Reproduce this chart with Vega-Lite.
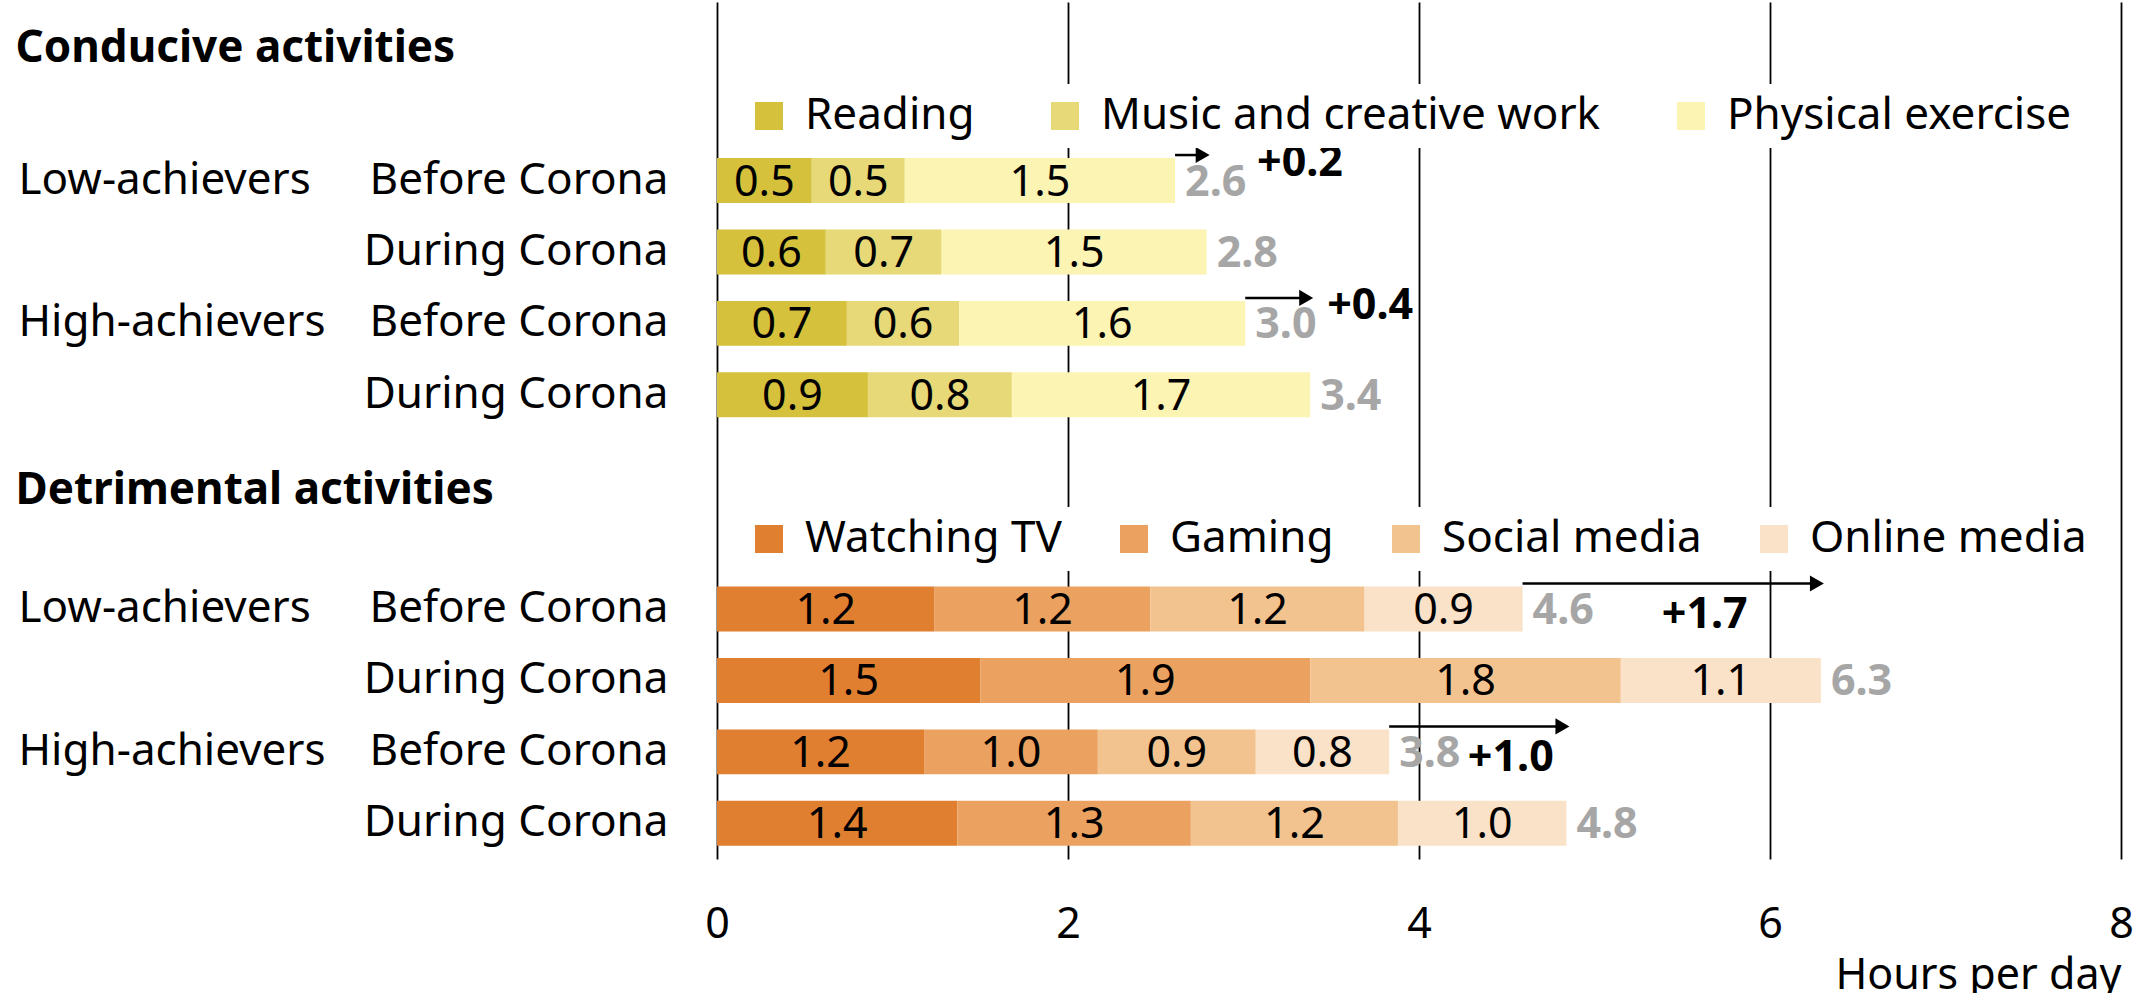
{
  "$schema": "https://vega.github.io/schema/vega-lite/v6.json",
  "width": 1404,
  "height": 857,
  "padding": {"left": 15, "top": 2, "right": 0, "bottom": 0},
  "config": {
    "font": "Noto Sans",
    "view": {"stroke": null},
    "axis": {"labelFontSize": 44, "labelColor": "black", "labelLimit": 0, "domain": false, "ticks": false, "tickSize": 0, "grid": false, "labelFontWeight": "normal"},
    "legend": {"labelFontSize": 44, "labelColor": "black", "labelLimit": 0, "symbolType": "square", "symbolSize": 784, "symbolStrokeWidth": 0, "symbolOpacity": 1, "labelOffset": 14, "direction": "horizontal", "orient": "none", "fillColor": "white", "padding": 10}
  },
  "datasets": {
    "segments": [
      {"section": "Conducive", "row": "Conducive|Low-achievers|Before Corona", "activity": "Reading", "order": 1, "hours": 0.54},
      {"section": "Conducive", "row": "Conducive|Low-achievers|Before Corona", "activity": "Music and creative work", "order": 2, "hours": 0.53},
      {"section": "Conducive", "row": "Conducive|Low-achievers|Before Corona", "activity": "Physical exercise", "order": 3, "hours": 1.54},
      {"section": "Conducive", "row": "Conducive|Low-achievers|During Corona", "activity": "Reading", "order": 1, "hours": 0.62},
      {"section": "Conducive", "row": "Conducive|Low-achievers|During Corona", "activity": "Music and creative work", "order": 2, "hours": 0.66},
      {"section": "Conducive", "row": "Conducive|Low-achievers|During Corona", "activity": "Physical exercise", "order": 3, "hours": 1.51},
      {"section": "Conducive", "row": "Conducive|High-achievers|Before Corona", "activity": "Reading", "order": 1, "hours": 0.74},
      {"section": "Conducive", "row": "Conducive|High-achievers|Before Corona", "activity": "Music and creative work", "order": 2, "hours": 0.64},
      {"section": "Conducive", "row": "Conducive|High-achievers|Before Corona", "activity": "Physical exercise", "order": 3, "hours": 1.63},
      {"section": "Conducive", "row": "Conducive|High-achievers|During Corona", "activity": "Reading", "order": 1, "hours": 0.86},
      {"section": "Conducive", "row": "Conducive|High-achievers|During Corona", "activity": "Music and creative work", "order": 2, "hours": 0.82},
      {"section": "Conducive", "row": "Conducive|High-achievers|During Corona", "activity": "Physical exercise", "order": 3, "hours": 1.70},
      {"section": "Detrimental", "row": "Detrimental|Low-achievers|Before Corona", "activity": "Watching TV", "order": 1, "hours": 1.24},
      {"section": "Detrimental", "row": "Detrimental|Low-achievers|Before Corona", "activity": "Gaming", "order": 2, "hours": 1.23},
      {"section": "Detrimental", "row": "Detrimental|Low-achievers|Before Corona", "activity": "Social media", "order": 3, "hours": 1.22},
      {"section": "Detrimental", "row": "Detrimental|Low-achievers|Before Corona", "activity": "Online media", "order": 4, "hours": 0.90},
      {"section": "Detrimental", "row": "Detrimental|Low-achievers|During Corona", "activity": "Watching TV", "order": 1, "hours": 1.50},
      {"section": "Detrimental", "row": "Detrimental|Low-achievers|During Corona", "activity": "Gaming", "order": 2, "hours": 1.88},
      {"section": "Detrimental", "row": "Detrimental|Low-achievers|During Corona", "activity": "Social media", "order": 3, "hours": 1.77},
      {"section": "Detrimental", "row": "Detrimental|Low-achievers|During Corona", "activity": "Online media", "order": 4, "hours": 1.14},
      {"section": "Detrimental", "row": "Detrimental|High-achievers|Before Corona", "activity": "Watching TV", "order": 1, "hours": 1.18},
      {"section": "Detrimental", "row": "Detrimental|High-achievers|Before Corona", "activity": "Gaming", "order": 2, "hours": 0.99},
      {"section": "Detrimental", "row": "Detrimental|High-achievers|Before Corona", "activity": "Social media", "order": 3, "hours": 0.90},
      {"section": "Detrimental", "row": "Detrimental|High-achievers|Before Corona", "activity": "Online media", "order": 4, "hours": 0.76},
      {"section": "Detrimental", "row": "Detrimental|High-achievers|During Corona", "activity": "Watching TV", "order": 1, "hours": 1.37},
      {"section": "Detrimental", "row": "Detrimental|High-achievers|During Corona", "activity": "Gaming", "order": 2, "hours": 1.33},
      {"section": "Detrimental", "row": "Detrimental|High-achievers|During Corona", "activity": "Social media", "order": 3, "hours": 1.18},
      {"section": "Detrimental", "row": "Detrimental|High-achievers|During Corona", "activity": "Online media", "order": 4, "hours": 0.96}
    ],
    "changes": [
      {"section": "Conducive", "row": "Conducive|Low-achievers|Before Corona", "before": 2.61, "during": 2.79, "change": 0.2},
      {"section": "Conducive", "row": "Conducive|High-achievers|Before Corona", "before": 3.01, "during": 3.38, "change": 0.4},
      {"section": "Detrimental", "row": "Detrimental|Low-achievers|Before Corona", "before": 4.59, "during": 6.29, "change": 1.7},
      {"section": "Detrimental", "row": "Detrimental|High-achievers|Before Corona", "before": 3.83, "during": 4.84, "change": 1.0}
    ]
  },
  "layer": [
    {
      "data": {"name": "segments"},
      "transform": [
        {"filter": "datum.section == 'Conducive'"},
        {"stack": "hours", "groupby": ["row"], "sort": [{"field": "order", "order": "ascending"}], "as": ["x0", "x1"]}
      ],
      "mark": {"type": "bar"},
      "encoding": {
        "y": {
          "field": "row", "type": "nominal", "title": null,
          "scale": {
            "domain": [
              "Conducive activities", "Conducive legend",
              "Conducive|Low-achievers|Before Corona", "Conducive|Low-achievers|During Corona",
              "Conducive|High-achievers|Before Corona", "Conducive|High-achievers|During Corona",
              "Detrimental activities", "Detrimental legend",
              "Detrimental|Low-achievers|Before Corona", "Detrimental|Low-achievers|During Corona",
              "Detrimental|High-achievers|Before Corona", "Detrimental|High-achievers|During Corona"
            ],
            "paddingInner": 0.37, "paddingOuter": 0.185
          },
          "axis": {"orient": "left", "title": null, "labelExpr": "indexof(datum.label, '|') >= 0 ? split(datum.label, '|')[2] : ''", "labelPadding": 49, "labelAlign": "right"}
        },
        "x": {
          "field": "x0", "type": "quantitative", "title": "Hours per day",
          "scale": {"domain": [0, 8], "nice": false, "zero": true},
          "axis": {"values": [0, 2, 4, 6, 8], "format": "d", "grid": true, "gridColor": "black", "gridWidth": 1.8, "gridOpacity": 1, "domain": false, "ticks": false, "labelFontSize": 43, "labelPadding": 44, "labelFlush": false, "labelColor": "black", "title": "Hours per day", "titleFontSize": 43, "titleFontWeight": "normal", "titleColor": "black", "titleAnchor": "end", "titlePadding": 8}
        },
        "x2": {"field": "x1"},
        "color": {
          "field": "activity", "type": "nominal",
          "scale": {"domain": ["Reading", "Music and creative work", "Physical exercise"], "range": ["#d6c13c", "#e7d878", "#fcf4b3"]},
          "legend": {"title": null, "legendX": 20, "legendY": 82, "columnPadding": 68}
        }
      }
    },
    {
      "data": {"name": "segments"},
      "transform": [
        {"filter": "datum.section == 'Detrimental'"},
        {"stack": "hours", "groupby": ["row"], "sort": [{"field": "order", "order": "ascending"}], "as": ["x0", "x1"]}
      ],
      "mark": {"type": "bar"},
      "encoding": {
        "y": {"field": "row", "type": "nominal", "title": null, "axis": null},
        "x": {"field": "x0", "type": "quantitative", "title": "Hours per day"},
        "x2": {"field": "x1"},
        "color": {
          "field": "activity", "type": "nominal",
          "scale": {"domain": ["Watching TV", "Gaming", "Social media", "Online media"], "range": ["#e07f30", "#eba15f", "#f3c38f", "#fae2c8"]},
          "legend": {"title": null, "legendX": 20, "legendY": 505, "columnPadding": 50}
        }
      }
    },
    {
      "data": {"name": "segments"},
      "transform": [
        {"stack": "hours", "groupby": ["row"], "sort": [{"field": "order", "order": "ascending"}], "as": ["x0", "x1"]},
        {"fold": ["x0", "x1"], "as": ["edge", "edgeValue"]}
      ],
      "mark": {"type": "text", "fontSize": 43, "color": "black", "align": "center", "baseline": "middle", "dy": 2},
      "encoding": {
        "y": {"field": "row", "type": "nominal", "title": null,
          "axis": {"orient": "left", "title": null, "labelExpr": "indexof(datum.label, 'Before Corona') >= 0 ? split(datum.label, '|')[1] : ''", "labelPadding": 699, "labelAlign": "left"}},
        "x": {"aggregate": "mean", "field": "edgeValue", "type": "quantitative", "title": "Hours per day"},
        "detail": {"field": "activity", "type": "nominal"},
        "text": {"aggregate": "mean", "field": "hours", "type": "quantitative", "format": ".1f"}
      }
    },
    {
      "data": {"name": "segments"},
      "mark": {"type": "text", "fontSize": 43, "fontWeight": "bold", "color": "#a6a6a6", "align": "left", "baseline": "middle", "dx": 10, "dy": 2},
      "encoding": {
        "y": {"field": "row", "type": "nominal", "title": null,
          "axis": {"orient": "left", "title": null, "labelExpr": "indexof(datum.label, '|') < 0 && indexof(datum.label, 'legend') < 0 ? datum.label : ''", "labelPadding": 702, "labelAlign": "left", "labelFontWeight": "bold", "labelFontSize": 44,
            "labelOffset": {"condition": {"test": "datum.value == 'Detrimental activities'", "value": 25}, "value": 11}}},
        "x": {"aggregate": "sum", "field": "hours", "type": "quantitative", "title": "Hours per day"},
        "text": {"aggregate": "sum", "field": "hours", "type": "quantitative", "format": ".1f"}
      }
    },
    {
      "data": {"name": "changes"},
      "mark": {"type": "rule", "color": "black", "strokeWidth": 2.5, "yOffset": -3},
      "encoding": {
        "y": {"field": "row", "type": "nominal", "bandPosition": 0, "title": null, "axis": null},
        "x": {"field": "before", "type": "quantitative", "title": "Hours per day"},
        "x2": {"field": "during"}
      }
    },
    {
      "data": {"name": "changes"},
      "mark": {"type": "point", "shape": "triangle-right", "filled": true, "color": "black", "opacity": 1, "size": 260, "yOffset": -3, "xOffset": -4},
      "encoding": {
        "y": {"field": "row", "type": "nominal", "bandPosition": 0, "title": null, "axis": null},
        "x": {"field": "during", "type": "quantitative", "title": "Hours per day"}
      }
    },
    {
      "data": {"name": "changes"},
      "transform": [{"filter": "datum.section == 'Conducive'"}],
      "mark": {"type": "text", "fontSize": 43, "fontWeight": "bold", "color": "black", "align": "left", "baseline": "middle", "dx": 82, "dy": 5},
      "encoding": {
        "y": {"field": "row", "type": "nominal", "bandPosition": 0, "title": null, "axis": null},
        "x": {"field": "before", "type": "quantitative", "title": "Hours per day"},
        "text": {"field": "change", "type": "quantitative", "format": "+.1f"}
      }
    },
    {
      "data": {"name": "changes"},
      "transform": [
        {"filter": "datum.section == 'Detrimental'"},
        {"fold": ["before", "during"], "as": ["end", "endValue"]}
      ],
      "mark": {"type": "text", "fontSize": 43, "fontWeight": "bold", "color": "black", "align": "center", "baseline": "middle", "dx": 33, "dy": 6},
      "encoding": {
        "y": {"field": "row", "type": "nominal", "title": null, "axis": null},
        "x": {"aggregate": "mean", "field": "endValue", "type": "quantitative", "title": "Hours per day"},
        "text": {"aggregate": "mean", "field": "change", "type": "quantitative", "format": "+.1f"}
      }
    }
  ],
  "resolve": {"scale": {"color": "independent"}, "axis": {"y": "independent"}}
}
